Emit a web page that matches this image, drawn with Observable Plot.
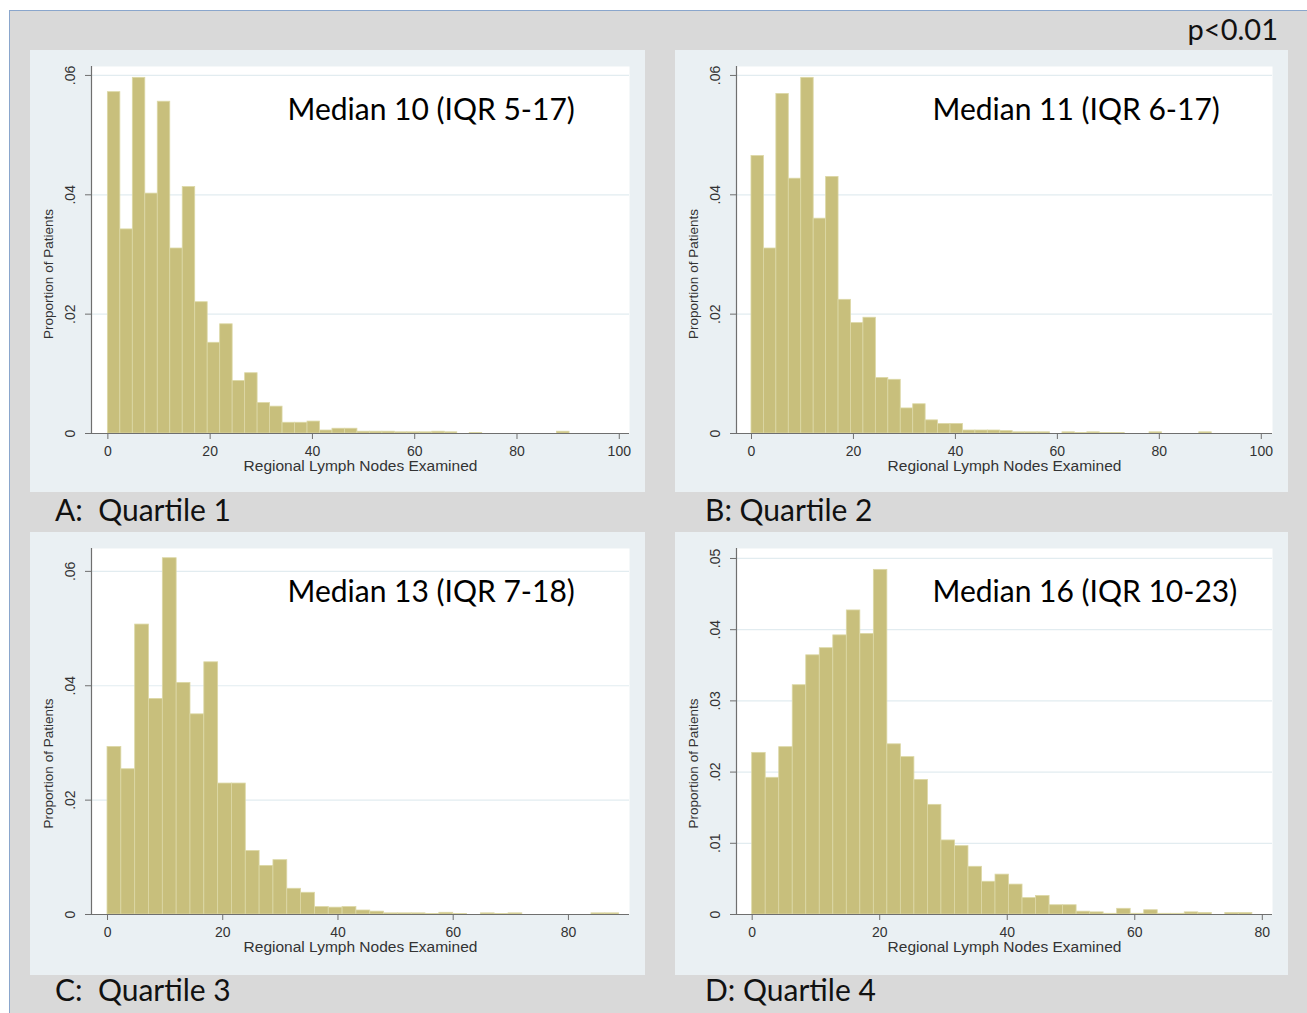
<!DOCTYPE html>
<html><head><meta charset="utf-8">
<script src="https://cdn.jsdelivr.net/npm/d3@7"></script>
<script src="https://cdn.jsdelivr.net/npm/@observablehq/plot@0.6"></script>
<style>
html,body{margin:0;padding:0;background:#fff;width:1307px;height:1013px;overflow:hidden;position:relative;}
#bg{position:absolute;left:9px;top:10px;width:1298px;height:1003px;background:#d9d9d9;border-top:1.5px solid #8aa6cc;border-left:1.5px solid #8aa6cc;}
.panel{position:absolute;background:#eaf0f3;}
.panel svg{display:block;}
.lbl{position:absolute;font-family:Lato,"Open Sans",sans-serif;font-size:30px;color:#111;white-space:pre;line-height:1;}
</style></head><body>
<div id="bg"></div>
<div id="pA" class="panel" style="left:30px;top:50px;width:615px;height:442px"></div>
<div id="pB" class="panel" style="left:675px;top:50px;width:613px;height:442px"></div>
<div id="pC" class="panel" style="left:30px;top:532px;width:615px;height:443px"></div>
<div id="pD" class="panel" style="left:675px;top:532px;width:613px;height:443px"></div>
<div id="lA" class="lbl" style="left:55px;top:494px"></div>
<div id="lB" class="lbl" style="left:705px;top:494px"></div>
<div id="lC" class="lbl" style="left:55px;top:974px"></div>
<div id="lD" class="lbl" style="left:705px;top:974px"></div>
<div id="pval" class="lbl" style="right:29px;top:14px;font-size:29px"></div>
<script>
// ---- data ----
const binWidthA = 2.44, binWidthB = 2.44, binWidthC = 2.40, binWidthD = 2.12;
const propA = [0.0572,0.0342,0.0596,0.0402,0.0556,0.0310,0.0413,0.0220,0.0152,0.0183,0.0088,0.0101,0.0051,0.0045,0.0018,0.0018,0.0020,0.0005,0.0008,0.0008,0.0003,0.0003,0.0003,0.0002,0.0002,0.0002,0.0003,0.0002,0,0.0001,0,0,0,0,0,0,0.0003];
const propB = [0.0465,0.0310,0.0569,0.0427,0.0596,0.0360,0.0430,0.0224,0.0185,0.0194,0.0093,0.0090,0.0042,0.0049,0.0022,0.0016,0.0016,0.0005,0.0005,0.0005,0.0004,0.0002,0.0002,0.0002,0,0.0002,0.0001,0.0002,0.0001,0.0001,0,0,0.0002,0,0,0,0.0002];
const propC = [0.0293,0.0254,0.0507,0.0377,0.0623,0.0405,0.0350,0.0441,0.0229,0.0229,0.0111,0.0085,0.0095,0.0045,0.0038,0.0013,0.0012,0.0013,0.0007,0.0005,0.0002,0.0002,0.0002,0.0001,0.0003,0.0001,0,0.0002,0.0001,0.0002,0,0,0,0,0,0.0002,0.0002];
const propD = [0.0227,0.0192,0.0235,0.0322,0.0364,0.0374,0.0392,0.0427,0.0394,0.0484,0.0239,0.0221,0.0189,0.0154,0.0104,0.0096,0.0067,0.0046,0.0056,0.0042,0.0023,0.0026,0.0013,0.0013,0.0004,0.0003,0.0001,0.0008,0.0001,0.0006,0.0001,0.0001,0.0003,0.0002,0,0.0002,0.0002];
const medianLabels = ["Median 10 (IQR 5-17)", "Median 11 (IQR 6-17)", "Median 13 (IQR 7-18)", "Median 16 (IQR 10-23)"];
const panelLabels = ["A:  Quartile 1", "B: Quartile 2", "C:  Quartile 3", "D: Quartile 4"];
const pValueLabel = "p<0.01";
const xTitle = "Regional Lymph Nodes Examined";
const yTitle = "Proportion of Patients";
const xTicksAB = [0, 20, 40, 60, 80, 100];
const xTicksCD = [0, 20, 40, 60, 80];
const yTicksABC = [0, 0.02, 0.04, 0.06];
const yTicksD = [0, 0.01, 0.02, 0.03, 0.04, 0.05];

// ---- layout / style ----
const fmt = d => d === 0 ? "0" : d3.format(".2f")(d).replace(/^0/, "");
const axisGray = "#6f6f6f";

function hist(values, binWidth, o) {
  const data = values.map((v, i) => ({x1: i * binWidth, x2: (i + 1) * binWidth, y: v}));
  return Plot.plot({
    width: o.w, height: o.h,
    marginLeft: 61, marginRight: o.mr, marginTop: 16, marginBottom: o.mb,
    x: {domain: o.xDomain},
    y: {domain: o.yDomain},
    style: {background: "transparent", fontFamily: "'Liberation Sans', Arial, sans-serif", color: "#333", overflow: "visible"},
    marks: [
      Plot.frame({fill: "white", stroke: null}),
      Plot.gridY(o.yTicks.filter(t => t > 0), {stroke: "#e2ecf0", strokeOpacity: 1, strokeWidth: 1.2}),
      Plot.rectY(data, {x1: "x1", x2: "x2", y: "y", fill: "#c8bf7c", stroke: "#dcd8a6", strokeWidth: 0.8}),
      Plot.ruleY([0], {stroke: axisGray, strokeWidth: 1.2}),
      Plot.ruleX([o.xDomain[0]], {stroke: axisGray, strokeWidth: 1.2}),
      Plot.axisX({ticks: o.xTicks, tickSize: 6, tickPadding: 7, fontSize: 14, label: null, stroke: axisGray}),
      Plot.axisY({ticks: o.yTicks, tickSize: 6, tickPadding: 11, tickRotate: -90, tickFormat: fmt, fontSize: 14, label: null, stroke: axisGray}),
      Plot.text([xTitle], {text: d => d, frameAnchor: "bottom", dy: 33, fontSize: 15.5, lineAnchor: "middle", fill: "#333"}),
      Plot.text([yTitle], {text: d => d, frameAnchor: "left", textAnchor: "middle", dx: -43, dy: o.ytDy, rotate: -90, fontSize: 13.5, fill: "#333"}),
      Plot.text([o.median], {text: d => d, frameAnchor: "top-left", textAnchor: "start", lineAnchor: "middle", dx: 196, dy: 44, fontSize: 30, fontFamily: "Lato, 'Open Sans', sans-serif", fill: "#000"})
    ]
  });
}

document.getElementById("pA").append(hist(propA, binWidthA, {w: 615, h: 442, mr: 16, mb: 59, xDomain: [-3.2, 102], yDomain: [0, 0.0615], xTicks: xTicksAB, yTicks: yTicksABC, median: medianLabels[0], ytDy: 24}));
document.getElementById("pB").append(hist(propB, binWidthB, {w: 613, h: 442, mr: 16, mb: 59, xDomain: [-2.94, 102.2], yDomain: [0, 0.0615], xTicks: xTicksAB, yTicks: yTicksABC, median: medianLabels[1], ytDy: 24}));
document.getElementById("pC").append(hist(propC, binWidthC, {w: 615, h: 443, mr: 16, mb: 61, xDomain: [-2.78, 90.6], yDomain: [0, 0.064], xTicks: xTicksCD, yTicks: yTicksABC, median: medianLabels[2], ytDy: 32}));
document.getElementById("pD").append(hist(propD, binWidthD, {w: 613, h: 443, mr: 16, mb: 61, xDomain: [-2.46, 81.6], yDomain: [0, 0.0514], xTicks: xTicksCD, yTicks: yTicksD, median: medianLabels[3], ytDy: 32}));

["lA", "lB", "lC", "lD"].forEach((id, i) => document.getElementById(id).textContent = panelLabels[i]);
document.getElementById("pval").textContent = pValueLabel;
</script>
</body></html>
